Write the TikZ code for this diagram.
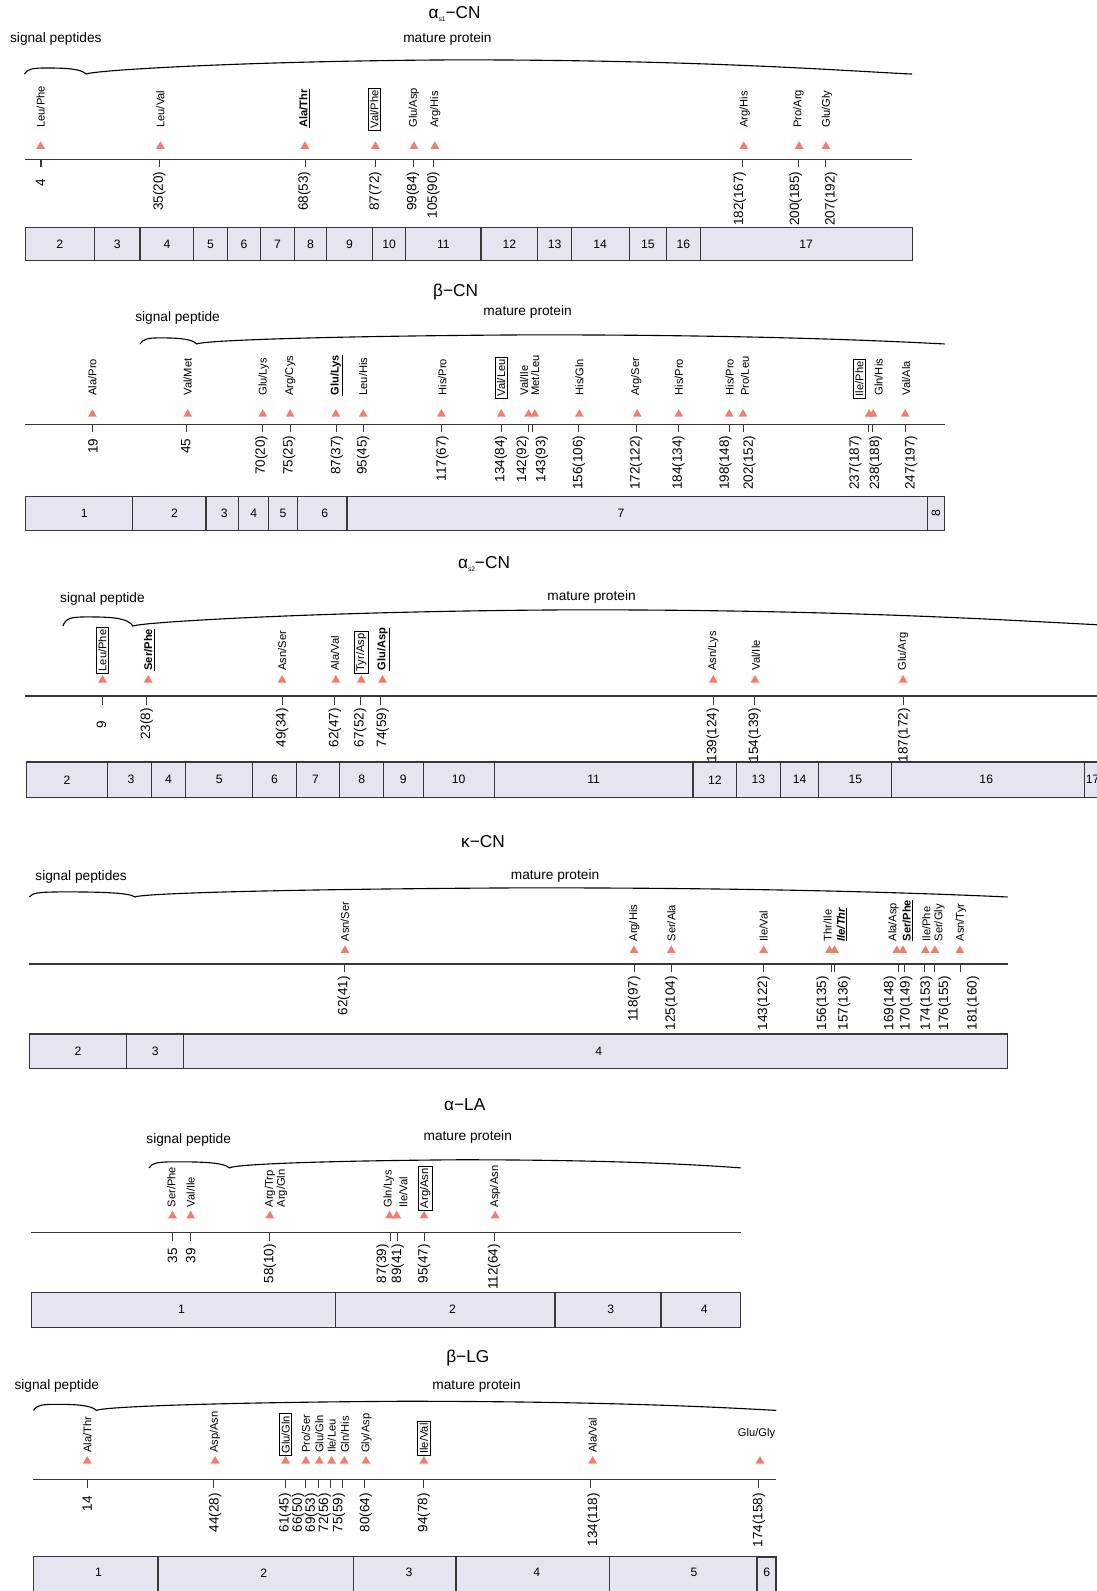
\documentclass[tikz,border=0pt]{standalone}
\usepackage{fontspec}
\setmainfont{Liberation Sans}
\usetikzlibrary{shapes.geometric}
\definecolor{trired}{RGB}{242,125,110}
\definecolor{exfill}{RGB}{229,229,242}
\definecolor{ln}{RGB}{55,55,55}
\newcommand\sBU[1]{\textbf{\underline{#1}}}
\newcommand\sBIU[1]{\textbf{\textit{\underline{#1}}}}
\tikzset{
 lab/.style={rotate=90, anchor=west, inner sep=0pt, font=\fontsize{11}{11}\selectfont},
 blab/.style={rotate=90, anchor=west, draw=black, line width=0.8pt, inner sep=2pt, font=\fontsize{11}{11}\selectfont},
 num/.style={rotate=90, anchor=east, inner sep=0pt, font=\fontsize{13.3}{13}\selectfont},
 trimark/.style={regular polygon, regular polygon sides=3, fill=trired, draw=none, minimum size=10pt, inner sep=0pt, yshift=-1.2pt},
 tickline/.style={draw=ln, line width=1pt},
 axisline/.style={draw=ln, line width=1.2pt},
 exon/.style={draw=ln, fill=exfill, line width=1.1pt},
 exlab/.style={font=\fontsize{12}{12}\selectfont, inner sep=0pt},
 bracesty/.style={draw=black, line width=1.1pt},
 ttl/.style={font=\fontsize{17}{17}\selectfont, inner sep=0pt},
 subttl/.style={font=\fontsize{13.5}{13.5}\selectfont, inner sep=0pt},
}
\newcommand\sLab[2]{\node[lab] at (#1,\ly) {#2};}
\newcommand\sBox[2]{\node[blab] at (#1,\ly+3) {#2};}
\newcommand\sTris[1]{\foreach \q in {#1} {\node[trimark] at (\q,\ty) {};}}
\newcommand\sTicks[1]{\foreach \q in {#1} {\draw[tickline] (\q,\ay) -- (\q,\te);}}
\newcommand\sNum[3][0]{\node[num] at (#2,\ny+#1) {#3};}
\newcommand\sEx[3]{\draw[exon] (#1,\ey) rectangle (#2,\eb); \node[exlab] at ({(#1+#2)/2},{(\ey+\eb)/2}) {#3};}
\newcommand\sExL[4]{\draw[exon] (#1,\ey) rectangle (#2,\eb); \node[exlab] at (#4,{(\ey+\eb)/2}) {#3};}
\newcommand\sBrace[6]{%
 \draw[bracesty] (#1,#4) .. controls ({#1+3},{#5+1}) and ({#1+8},#5) .. ({#1+0.35*(#2-#1)},#5)
 .. controls ({#2-0.3*(#2-#1)},#5) and ({#2-5},{#5+1}) .. (#2,#4)
 .. controls ({#2+8},{#4-4}) and ({#2+0.2*(#3-#2)},{#6+1}) .. ({#2+0.45*(#3-#2)},#6)
 .. controls ({#2+0.75*(#3-#2)},#6) and ({#3-0.08*(#3-#2)},{#4-3}) .. (#3,#4);}
\newcommand\sSub[1]{\raisebox{-2.5pt}{\fontsize{6.5}{6.5}\selectfont #1}}
\begin{document}
\begin{tikzpicture}[x=1pt,y=-1pt]
\fill[white] (0,0) rectangle (1081,1568);
\useasboundingbox (0,0) rectangle (1081,1568);

% ===================== alpha s1-CN
\node[ttl] (t1) at (448,14) {α\sSub{s1}−CN};
\node[subttl] (sp1) at (55,38) {signal peptides};
\node[subttl] (mp1) at (441,38) {mature protein};
\sBrace{24}{85}{899}{73}{67}{59}
\def\ly{126}\def\ty{143}\def\ay{157}\def\te{165}\def\ny{169}\def\ey{224}\def\eb{257}
\sLab{40}{Leu/Phe}\sLab{158}{Leu/Val}\sLab{300}{\sBU{Ala/Thr}}\sBox{369}{Val/Phe}
\sLab{408}{Glu/Asp}\sLab{429}{Arg/His}\sLab{734}{Arg/His}\sLab{787}{Pro/Arg}\sLab{815}{Glu/Gly}
\sTris{40,158,300.5,370,408,428.6,733,787.6,814}
\draw[axisline] (25,\ay) -- (899,\ay);
\sTicks{40.4,157.6,300.7,370,408,427.6,732,786.7,814}
\sNum[7]{40}{4}\sNum{157}{35(20)}\sNum{300}{68(53)}\sNum{370}{87(72)}\sNum{407}{99(84)}
\sNum{427}{105(90)}\sNum{729}{182(167)}\sNum{784}{200(185)}\sNum{819}{207(192)}
\sEx{25}{93}{2}\sEx{93}{138}{3}\sEx{138}{191}{4}\sEx{191}{224}{5}\sEx{224}{257}{6}
\sEx{257}{290}{7}\sEx{290}{322}{8}\sEx{322}{367}{9}\sEx{367}{400}{10}\sEx{400}{474}{11}
\sEx{474}{530}{12}\sEx{530}{563}{13}\sEx{563}{620}{14}\sEx{620}{657}{15}\sEx{657}{690}{16}
\sEx{690}{899}{17}

% ===================== beta-CN
\node[ttl] (t2) at (449,288) {β−CN};
\node[subttl] (sp2) at (175,313) {signal peptide};
\node[subttl] (mp2) at (520,307) {mature protein};
\sBrace{138}{194}{931}{339}{333}{330}
\def\ly{390}\def\ty{407}\def\ay{418}\def\te{426}\def\ny{429}\def\ey{489}\def\eb{523}
\sLab{91}{Ala/Pro}\sLab{185}{Val/Met}\sLab{260}{Glu/Lys}\sLab{286}{Arg/Cys}
\sLab{332}{\sBU{Glu/Lys}}\sLab{358}{Leu/His}\sLab{436}{His/Pro}\sBox{494}{Val/Leu}
\sLab{516.5}{Val/Ile}\sLab{527.5}{Met/Leu}\sLab{571}{His/Gln}\sLab{627}{Arg/Ser}
\sLab{669}{His/Pro}\sLab{719}{His/Pro}\sLab{734}{Pro/Leu}\sBox{847}{Ile/Phe}
\sLab{866}{Gln/His}\sLab{893}{Val/Ala}
\sTris{91,185,259,286,331,358,435,494,521,527,571,628,669,718.6,732.3,856.5,860.5,892}
\draw[axisline] (25,\ay) -- (931,\ay);
\sTicks{91.6,184,259,286,332,357.8,435.5,494,521,525,570.6,627.7,669,718.6,732.3,856,859.6,892}
\sNum[3]{91.6}{19}\sNum[3]{183}{45}\sNum{257.5}{70(20)}\sNum{285}{75(25)}\sNum{332}{87(37)}
\sNum{358}{95(45)}\sNum{436}{117(67)}\sNum{493.6}{134(84)}\sNum{515}{142(92)}\sNum{534}{143(93)}
\sNum{570.6}{156(106)}\sNum{627}{172(122)}\sNum{668.6}{184(134)}\sNum{715}{198(148)}
\sNum{738.5}{202(152)}\sNum{843}{237(187)}\sNum{863}{238(188)}\sNum{898}{247(197)}
\sExL{25}{131}{1}{83}\sExL{131}{203}{2}{172}\sExL{203}{235}{3}{221}\sEx{235}{265}{4}
\sEx{265}{293}{5}\sExL{293}{342}{6}{320}\sExL{342}{914}{7}{612}
\draw[exon] (914,\ey) rectangle (931,\eb);
\node[exlab, rotate=90] (e8) at (922.5,506) {8};

% ===================== alpha s2-CN
\node[ttl] (t3) at (477,556) {α\sSub{s2}−CN};
\node[subttl] (sp3) at (101,590) {signal peptide};
\node[subttl] (mp3) at (583,588) {mature protein};
\sBrace{62}{131}{1110}{617}{608}{601}
\def\ly{661}\def\ty{669}\def\ay{686}\def\te{695}\def\ny{698}\def\ey{751}\def\eb{786}
\sBox{101}{Leu/Phe}\sLab{147}{\sBU{Ser/Phe}}\sLab{278}{Asn/Ser}\sLab{330}{Ala/Val}
\sBox{356}{Tyr/Asp}\sLab{378}{\sBU{Glu/Asp}}\sLab{703}{Asn/Lys}\sLab{745}{Val/Ile}
\sLab{890}{Glu/Arg}
\sTris{101,146,278,331,356,377,703,744,890}
\draw[axisline] (25,\ay) -- (1100,\ay);
\sTicks{101,144.5,278.6,329.4,355,375,703.6,744,890}
\sNum[12]{100}{9}\sNum{144.5}{23(8)}\sNum{278}{49(34)}\sNum{330}{62(47)}\sNum{355}{67(52)}
\sNum{377}{74(59)}\sNum{702.6}{139(124)}\sNum{743.7}{154(139)}\sNum{891}{187(172)}
\sEx{26}{106}{2}\sExL{106}{149}{3}{129}\sEx{149}{183}{4}\sEx{183}{249}{5}\sEx{249}{292}{6}
\sExL{292}{335}{7}{311}\sEx{335}{378}{8}\sEx{378}{417}{9}\sEx{417}{487}{10}\sEx{487}{683}{11}
\sEx{683}{726}{12}\sEx{726}{769}{13}\sEx{769}{807}{14}\sEx{807}{879}{15}\sExL{879}{1069}{16}{972}
\draw[exon] (1069,\ey) rectangle (1100,\eb);
\node[exlab, anchor=west] (e17) at (1070,768.5) {17};

% ===================== kappa-CN
\node[ttl] (t4) at (476,829) {κ−CN};
\node[subttl] (sp4) at (80,864) {signal peptides};
\node[subttl] (mp4) at (547,863) {mature protein};
\sBrace{29}{133}{993}{884}{879}{875}
\def\ly{928}\def\ty{935.5}\def\ay{950}\def\te{958}\def\ny{962}\def\ey{1019}\def\eb{1053}
\sLab{340}{Asn/Ser}\sLab{625}{Arg/His}\sLab{661.6}{Ser/Ala}\sLab{752.6}{Ile/Val}
\sLab{815.7}{Thr/Ile}\sLab{829.7}{\sBIU{Ile/Thr}}\sLab{880.5}{Ala/Asp}\sLab{894.5}{\sBU{Ser/Phe}}
\sLab{913}{Ile/Phe}\sLab{926}{Ser/Gly}\sLab{947}{Asn/Tyr}
\sTris{340,624.8,661.6,752.6,817.5,822.5,883.9,889.8,912,921.4,946}
\draw[axisline] (29,\ay) -- (993,\ay);
\sTicks{340,625,662,752,819,822,885.8,891,911,921,947}
\sNum{339}{62(41)}\sNum{625}{118(97)}\sNum{661.6}{125(104)}\sNum{752.6}{143(122)}
\sNum{810.7}{156(135)}\sNum{832}{157(136)}\sNum{877}{169(148)}\sNum{893}{170(149)}
\sNum{913}{174(153)}\sNum{931}{176(155)}\sNum{959}{181(160)}
\sEx{29}{125}{2}\sEx{125}{181}{3}\sExL{181}{993}{4}{590}

% ===================== alpha-LA
\node[ttl] (t5) at (458,1089) {α−LA};
\node[subttl] (sp5) at (186,1123) {signal peptide};
\node[subttl] (mp5) at (461,1121) {mature protein};
\sBrace{147}{226}{730}{1151}{1145}{1143}
\def\ly{1190}\def\ty{1197}\def\ay{1215}\def\te{1223}\def\ny{1226}\def\ey{1273.5}\def\eb{1308}
\sLab{169}{Ser/Phe}\sLab{188}{Val/Ile}\sLab{266}{Arg/Trp}\sLab{278}{Arg/Gln}
\sLab{383}{Gln/Lys}\sLab{397.5}{Ile/Val}\sBox{419}{Arg/Asn}\sLab{488}{Asp/Asn}
\sTris{170,188,266,384,391,418,488}
\draw[axisline] (31,\ay) -- (730,\ay);
\sTicks{170,188,266,385,392,418,487}
\sNum[4]{170}{35}\sNum[4]{188}{39}\sNum{266}{58(10)}\sNum{377}{87(39)}\sNum{392}{89(41)}
\sNum{418}{95(47)}\sNum{487}{112(64)}
\sExL{31}{331}{1}{179}\sExL{331}{547}{2}{446}\sExL{547}{651.4}{3}{602}\sExL{651.4}{730}{4}{694}

% ===================== beta-LG
\node[ttl] (t6) at (461,1338) {β−LG};
\node[subttl] (sp6) at (56,1365.5) {signal peptide};
\node[subttl] (mp6) at (469.7,1365.5) {mature protein};
\sBrace{33}{95}{765}{1390}{1384}{1381}
\def\ly{1432}\def\ty{1438.7}\def\ay{1458.4}\def\te{1466.6}\def\ny{1471.5}\def\ey{1534}\def\eb{1550}
\sLab{86}{Ala/Thr}\sLab{212}{Asp/Asn}\sBox{281.5}{Glu/Gln}\sLab{301.5}{Pro/Ser}
\sLab{314.7}{Glu/Gln}\sLab{326.8}{Ile/Leu}\sLab{340}{Gln/His}\sLab{361.3}{Gly/Asp}
\sBox{417.8}{Ile/Val}\sLab{584}{Ala/Val}
\node[font=\fontsize{11}{11}\selectfont, inner sep=0pt] (gg) at (745.6,1413) {Glu/Gly};
\sTris{86,212,281.5,301.5,314.7,326.8,339.3,360.7,417.8,584,749}
\draw[axisline] (33,\ay) -- (765,\ay);
\sTicks{86,210,281,300.6,313.7,326,338,359.7,417,582,748}
\sNum[3]{86}{14}\sNum{212}{44(28)}\sNum{281}{61(45)}\sNum{294}{66(50)}\sNum{307}{69(53)}
\sNum{320}{72(56)}\sNum{334}{75(59)}\sNum{360.7}{80(64)}\sNum{417.8}{94(78)}
\sNum{585}{134(118)}\sNum{748}{174(158)}
\draw[exon] (33,1534) rectangle (746.3,1572);
\foreach \q in {155.7,348.2,449.4,601} {\draw[ln, line width=1.1pt] (\q,1534) -- (\q,1572);}
\draw[exon, line width=2pt] (746.3,1534) rectangle (765,1572);
\node[exlab] (x1) at (97,1550) {1};
\node[exlab] (x2) at (260,1550) {2};
\node[exlab] (x3) at (403,1550) {3};
\node[exlab] (x4) at (529,1550) {4};
\node[exlab] (x5) at (684,1550) {5};
\node[exlab] (x6) at (755.6,1550) {6};
\end{tikzpicture}
\end{document}
